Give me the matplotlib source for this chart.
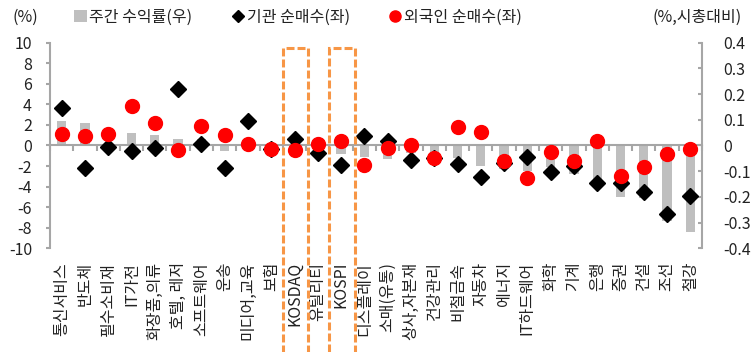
import matplotlib
matplotlib.use("Agg")
import matplotlib.pyplot as plt
import matplotlib.transforms as mtransforms
from matplotlib.lines import Line2D
from matplotlib.patches import Patch, Rectangle
import numpy as np

plt.rcParams["font.family"] = ["Noto Sans CJK KR", "DejaVu Sans"]
plt.rcParams["font.size"] = 11.5

# =============================================================================
# Data
# =============================================================================

categories = [
    "통신서비스", "반도체", "필수소비재", "IT가전", "화장품,의류", "호텔, 레저",
    "소프트웨어", "운송", "미디어,교육", "보험", "KOSDAQ", "유틸리티", "KOSPI",
    "디스플레이", "소매(유통)", "상사,자본재", "건강관리", "비철금속", "자동차",
    "에너지", "IT하드웨어", "화학", "기계", "은행", "증권", "건설", "조선", "철강",
]

# weekly return, % (right axis)
weekly_return = [
    0.095, 0.089, 0.008, 0.050, 0.042, 0.026, 0.026, -0.020, 0.004, 0.003,
    -0.005, 0.004, -0.034, -0.044, -0.052, -0.030, -0.025, -0.050, -0.080,
    -0.091, -0.098, -0.085, -0.110, -0.155, -0.200, -0.205, -0.295, -0.335,
]

# net buying, % of market cap (left axis)
institution_net = [
    3.6, -2.2, -0.15, -0.5, -0.2, 5.5, 0.1, -2.2, 2.4, -0.3, 0.6, -0.7, -1.85,
    0.95, 0.4, -1.4, -1.2, -1.8, -3.1, -1.7, -1.15, -2.55, -1.95, -3.65, -3.65,
    -4.5, -6.65, -4.9,
]
foreign_net = [
    1.15, 0.9, 1.1, 3.85, 2.2, -0.45, 1.85, 1.0, 0.15, -0.3, -0.45, 0.15, 0.4,
    -1.85, -0.2, 0.0, -1.25, 1.8, 1.35, -1.5, -3.15, -0.65, -1.55, 0.4, -3.0,
    -2.1, -0.8, -0.3,
]

left_ticks = [10, 8, 6, 4, 2, 0, -2, -4, -6, -8, -10]
right_ticks = [0.4, 0.3, 0.2, 0.1, 0, -0.1, -0.2, -0.3, -0.4]
highlighted = ["KOSDAQ", "KOSPI"]

# =============================================================================
# Figure
# =============================================================================

AXIS_GRAY = "#A6A6A6"
TEXT_COLOR = "#222222"

fig = plt.figure(figsize=(7.53, 3.52), dpi=100)
ax = fig.add_axes([0.0664, 0.2946, 0.8659, 0.5841])
ax2 = ax.twinx()

x = np.arange(len(categories))

# bars on the right axis, drawn behind the markers
ax2.bar(x, weekly_return, width=0.4, color="#BFBFBF", zorder=1)
ax2.set_ylim(-0.4, 0.4)
ax2.set_yticks(right_ticks)
ax2.set_yticklabels(["0.4", "0.3", "0.2", "0.1", "0", "-0.1", "-0.2", "-0.3", "-0.4"])

ax.set_zorder(ax2.get_zorder() + 1)
ax.patch.set_visible(False)

ax.plot(x, institution_net, linestyle="none", marker="D", markersize=8.5,
        color="black", zorder=3)
ax.plot(x, foreign_net, linestyle="none", marker="o", markersize=10,
        color="#FF0000", zorder=4)

ax.set_xlim(-0.5, len(categories) - 0.5)
ax.set_ylim(-10, 10)
ax.set_yticks(left_ticks)
ax.set_yticklabels([str(t) for t in left_ticks])

# axes styling
ax.spines["top"].set_visible(False)
ax2.spines["top"].set_visible(False)
ax.spines["right"].set_visible(False)
ax2.spines["left"].set_visible(False)
ax2.spines["bottom"].set_visible(False)
ax.spines["left"].set_color(AXIS_GRAY)
ax.spines["left"].set_linewidth(1.5)
ax2.spines["right"].set_color(AXIS_GRAY)
ax2.spines["right"].set_linewidth(1.5)

# zero line with category separators
ax.spines["bottom"].set_position(("data", 0))
ax.spines["bottom"].set_color(AXIS_GRAY)
ax.spines["bottom"].set_linewidth(1.5)
ax.set_xticks([])
ax.set_xticks(np.arange(-0.5, len(categories), 1.0), minor=True)
ax.tick_params(axis="x", which="minor", direction="out", length=4,
               width=1.5, color=AXIS_GRAY)

ax.tick_params(axis="y", direction="out", length=3, width=1.5,
               color=AXIS_GRAY, pad=10, labelcolor=TEXT_COLOR, labelsize=11.5)
ax2.tick_params(axis="y", direction="in", length=3, width=1.5,
                color=AXIS_GRAY, pad=15, labelcolor=TEXT_COLOR, labelsize=11.5)

# category labels under the plot
label_tr = mtransforms.blended_transform_factory(ax.transData, ax.transAxes)
for i, name in enumerate(categories):
    ax.text(i, -0.066, name, rotation=90, ha="center", va="top",
            transform=label_tr, color=TEXT_COLOR, fontsize=11.5)

# dashed boxes around the market indices (run off the bottom edge)
box_tr = mtransforms.blended_transform_factory(ax.transData, fig.transFigure)
box_top = 1 - 48 / 352
for name in highlighted:
    i = categories.index(name)
    rect = Rectangle((i - 0.5, -0.1), 1.08, box_top + 0.1,
                     transform=box_tr, fill=False, edgecolor="#F79646",
                     linewidth=2.2, linestyle=(0, (2.6, 1.0)), clip_on=False,
                     zorder=5)
    fig.add_artist(rect)

# units and legend
fig.text(12 / 753, 1 - 17 / 352, "(%)", ha="left", va="center",
         color=TEXT_COLOR, fontsize=11.5)
fig.text(742 / 753, 1 - 17 / 352, "(%,시총대비)", ha="right", va="center",
         color=TEXT_COLOR, fontsize=11.5)

handles = [
    Patch(facecolor="#BFBFBF", edgecolor="none"),
    Line2D([], [], linestyle="none", marker="D", markersize=6, color="black"),
    Line2D([], [], linestyle="none", marker="o", markersize=8, color="#FF0000"),
]
labels = ["주간 수익률(우)", "기관 순매수(좌)", "외국인 순매수(좌)"]
fig.legend(handles, labels, ncol=3, frameon=False, loc="center left",
           bbox_to_anchor=(74 / 753, 1 - 17 / 352), handlelength=0.8,
           handleheight=0.8, handletextpad=0.15, columnspacing=2.45,
           borderpad=0, borderaxespad=0, fontsize=11.5, labelcolor=TEXT_COLOR)

fig.savefig("out.png", dpi=100)
